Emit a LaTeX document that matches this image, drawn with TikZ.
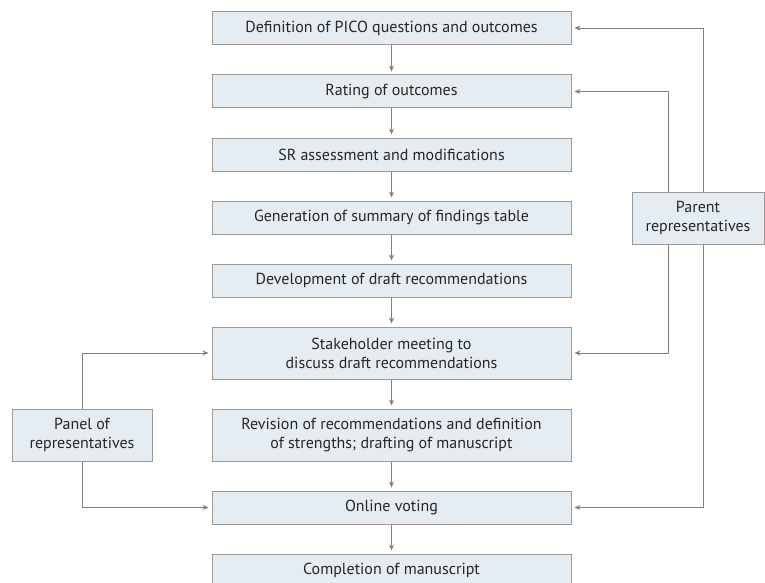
\documentclass[tikz,border=0pt]{standalone}
\usepackage{fontspec}
\setmainfont{PT Sans}
\usetikzlibrary{arrows.meta,calc}
\definecolor{boxfill}{HTML}{E6EDF2}
\definecolor{boxline}{HTML}{9A9A9A}
\definecolor{arrcol}{HTML}{808080}
\begin{document}
\begin{tikzpicture}[x=1pt,y=-1pt,
  box/.style={draw=boxline,fill=boxfill,line width=1pt,minimum width=359pt,minimum height=33pt,inner sep=0pt,align=center,font=\fontsize{16}{19}\selectfont,text=black!85},
  tall/.style={minimum height=52pt},
  arr/.style={draw=arrcol,line width=0.9pt,-{Stealth[length=6pt,width=5pt]},shorten >=3pt}]
\useasboundingbox (0,0) rectangle (765,583);
\node[box] (b1) at (391.5,28) {Definition of PICO questions and outcomes};
\node[box] (b2) at (391.5,91.5) {Rating of outcomes};
\node[box] (b3) at (391.5,154.5) {SR assessment and modifications};
\node[box] (b4) at (391.5,217.5) {Generation of summary of findings table};
\node[box] (b5) at (391.5,280.5) {Development of draft recommendations};
\node[box,tall] (b6) at (391.5,353) {Stakeholder meeting to\\discuss draft recommendations};
\node[box,tall] (b7) at (391.5,435) {Revision of recommendations and definition\\of strengths; drafting of manuscript};
\node[box] (b8) at (391.5,507.5) {Online voting};
\node[box] (b9) at (391.5,570.5) {Completion of manuscript};
\node[box,tall,minimum width=132pt] (par) at (698,218) {Parent\\representatives};
\node[box,tall,minimum width=140pt] (pan) at (82,435) {Panel of\\representatives};
\coordinate (pin) at (668,0);
\coordinate (pout) at (703,0);
\foreach \a/\b in {b1/b2,b2/b3,b3/b4,b4/b5,b5/b6,b6/b7,b7/b8,b8/b9}
  \draw[arr] (\a) -- (\b);
\draw[arr] (par.north -| pin) |- (b2.east);
\draw[arr] (par.north -| pout) |- (b1.east);
\draw[arr] (par.south -| pin) |- (b6.east);
\draw[arr] (par.south -| pout) |- (b8.east);
\draw[arr] (pan.north) |- (b6.west);
\draw[arr] (pan.south) |- (b8.west);
\end{tikzpicture}
\end{document}
